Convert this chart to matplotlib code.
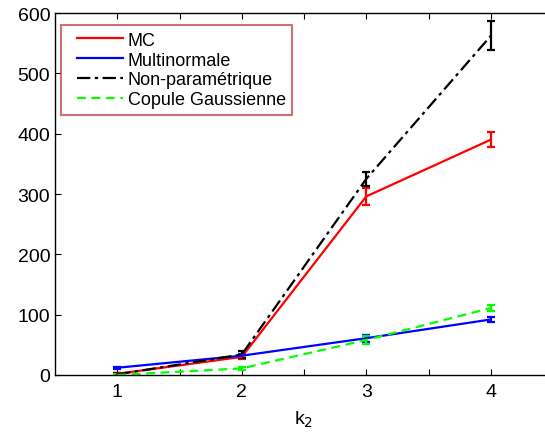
import numpy as np
import matplotlib
matplotlib.use("Agg")
import matplotlib.pyplot as plt
from matplotlib.lines import Line2D
from matplotlib.legend_handler import HandlerLine2D

plt.rcParams["font.family"] = ["Liberation Sans", "DejaVu Sans"]

# values
k2 = [1, 2, 3, 4]
mc = [2, 30, 296, 390]
mc_err = [2, 3, 14, 12]
multinorm = [12, 32, 61, 92]
multinorm_err = [2, 3, 6, 4]
nonparam = [1, 34, 325, 562]
nonparam_err = [2, 5, 12, 24]
copule = [0, 11, 58, 111]
copule_err = [1, 2, 6, 5]

series = [
    ("MC", mc, mc_err, "#ff0000", "-"),
    ("Multinormale", multinorm, multinorm_err, "#0000ff", "-"),
    ("Non-paramétrique", nonparam, nonparam_err, "#000000", (0, (6, 2, 1.5, 2))),
    ("Copule Gaussienne", copule, copule_err, "#00ff00", (0, (4, 2.5))),
]

fig = plt.figure(figsize=(5.45, 4.39), dpi=100)
ax = fig.add_axes([55 / 545, 63 / 439, 498 / 545, 362 / 439])

handles = []
for label, vals, err, col, ls in series:
    ax.errorbar(k2, vals, yerr=err, color=col, linestyle=ls, linewidth=1.6,
                elinewidth=1.6, capsize=3, capthick=1.6)
    handles.append(Line2D([], [], color=col, linestyle=ls, linewidth=1.6, label=label))

ax.set_xlim(0.5, 4.5)
ax.set_ylim(0, 600)
ax.set_xticks([1, 1.5, 2, 2.5, 3, 3.5, 4])
ax.set_xticklabels(["1", "", "2", "", "3", "", "4"])
ax.set_yticks(np.arange(0, 601, 100))
ax.tick_params(direction="in", top=True, right=True, labelsize=14, length=4, width=0.8)
ax.tick_params(axis="x", pad=6)
ax.set_xlabel("k$_2$", fontsize=14, labelpad=6)
for s in ax.spines.values():
    s.set_linewidth(1.0)

# MATLAB-style legend: short indent before each line sample
leg = ax.legend(handles=handles, loc="upper left", bbox_to_anchor=(0.012, 0.966),
                fontsize=13, frameon=True, fancybox=False, handlelength=3.1,
                handletextpad=0.25, labelspacing=0.16, borderpad=0.35,
                borderaxespad=0,
                handler_map={Line2D: HandlerLine2D(xpad=0.55)})
leg.get_frame().set_edgecolor("#c0504d")
leg.get_frame().set_linewidth(1.5)

fig.savefig("out.png", dpi=100)
